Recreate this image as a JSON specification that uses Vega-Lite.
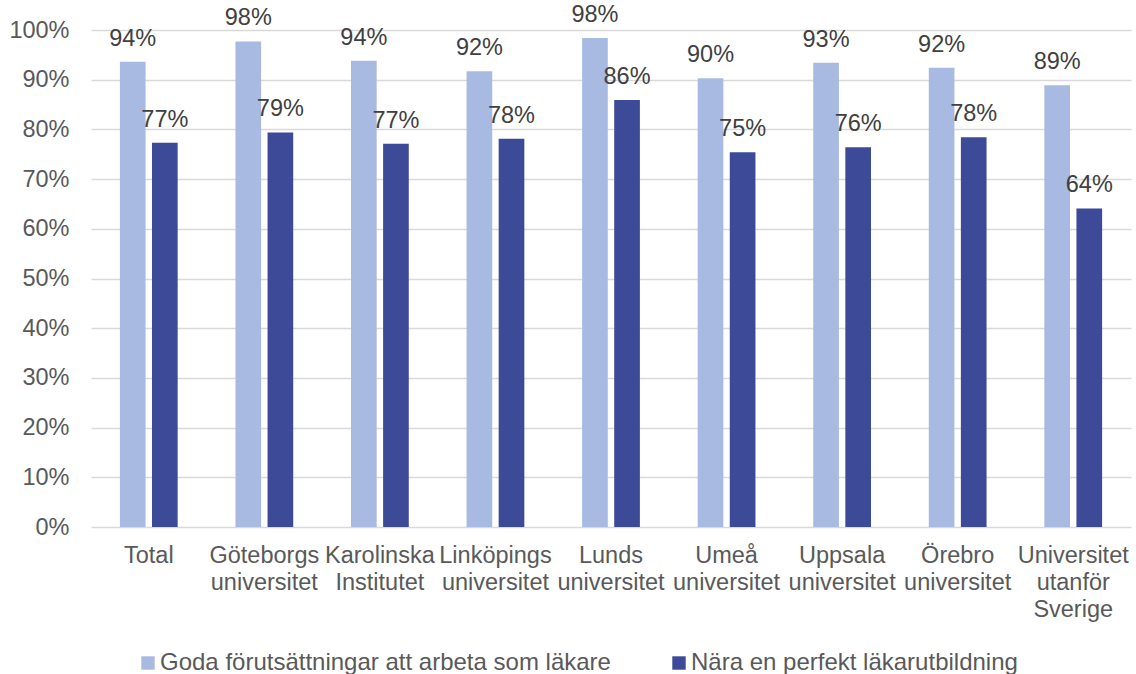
{
  "$schema": "https://vega.github.io/schema/vega-lite/v6.json",
  "width": 1040,
  "height": 497,
  "autosize": {"type": "none"},
  "padding": {"left": 91, "top": 30, "right": 5, "bottom": 147},
  "background": "white",
  "config": {
    "view": {"stroke": null},
    "font": "Liberation Sans",
    "text": {"font": "Liberation Sans"}
  },
  "data": {
    "values": [
      {"kat": "Total", "serie": "Goda förutsättningar att arbeta som läkare", "v": 0.936},
      {"kat": "Total", "serie": "Nära en perfekt läkarutbildning", "v": 0.773},
      {"kat": "Göteborgs\nuniversitet", "serie": "Goda förutsättningar att arbeta som läkare", "v": 0.977},
      {"kat": "Göteborgs\nuniversitet", "serie": "Nära en perfekt läkarutbildning", "v": 0.794},
      {"kat": "Karolinska\nInstitutet", "serie": "Goda förutsättningar att arbeta som läkare", "v": 0.938},
      {"kat": "Karolinska\nInstitutet", "serie": "Nära en perfekt läkarutbildning", "v": 0.771},
      {"kat": "Linköpings\nuniversitet", "serie": "Goda förutsättningar att arbeta som läkare", "v": 0.917},
      {"kat": "Linköpings\nuniversitet", "serie": "Nära en perfekt läkarutbildning", "v": 0.781},
      {"kat": "Lunds\nuniversitet", "serie": "Goda förutsättningar att arbeta som läkare", "v": 0.984},
      {"kat": "Lunds\nuniversitet", "serie": "Nära en perfekt läkarutbildning", "v": 0.859},
      {"kat": "Umeå\nuniversitet", "serie": "Goda förutsättningar att arbeta som läkare", "v": 0.903},
      {"kat": "Umeå\nuniversitet", "serie": "Nära en perfekt läkarutbildning", "v": 0.754},
      {"kat": "Uppsala\nuniversitet", "serie": "Goda förutsättningar att arbeta som läkare", "v": 0.934},
      {"kat": "Uppsala\nuniversitet", "serie": "Nära en perfekt läkarutbildning", "v": 0.764},
      {"kat": "Örebro\nuniversitet", "serie": "Goda förutsättningar att arbeta som läkare", "v": 0.924},
      {"kat": "Örebro\nuniversitet", "serie": "Nära en perfekt läkarutbildning", "v": 0.784},
      {"kat": "Universitet\nutanför\nSverige", "serie": "Goda förutsättningar att arbeta som läkare", "v": 0.889},
      {"kat": "Universitet\nutanför\nSverige", "serie": "Nära en perfekt läkarutbildning", "v": 0.641}
    ]
  },
  "encoding": {
    "x": {
      "field": "kat",
      "type": "nominal",
      "sort": null,
      "title": null,
      "scale": {"paddingInner": 0.5, "paddingOuter": 0.25},
      "axis": {
        "labelAngle": 0,
        "labelExpr": "split(datum.label, '\\n')",
        "labelFontSize": 23.5,
        "labelColor": "#595959",
        "labelFont": "Liberation Sans",
        "labelLineHeight": 27,
        "labelPadding": 16,
        "labelBaseline": "top",
        "labelOverlap": false,
        "domain": false,
        "ticks": false,
        "grid": false,
        "labelLimit": 0
      }
    },
    "xOffset": {
      "field": "serie",
      "type": "nominal",
      "sort": null,
      "scale": {"paddingInner": 0.2, "paddingOuter": 0}
    },
    "y": {
      "field": "v",
      "type": "quantitative",
      "title": null,
      "scale": {"domain": [0, 1], "nice": false},
      "axis": {
        "format": ".0%",
        "values": [0, 0.1, 0.2, 0.3, 0.4, 0.5, 0.6, 0.7, 0.8, 0.9, 1.0],
        "labelOverlap": false,
        "labelFontSize": 23.5,
        "labelColor": "#595959",
        "labelFont": "Liberation Sans",
        "labelPadding": 22,
        "domain": false,
        "ticks": false,
        "grid": true,
        "gridColor": "#d9d9d9",
        "gridWidth": 1.3
      }
    }
  },
  "layer": [
    {
      "mark": {"type": "bar"},
      "encoding": {
        "color": {
          "field": "serie",
          "type": "nominal",
          "sort": null,
          "scale": {
            "domain": ["Goda förutsättningar att arbeta som läkare", "Nära en perfekt läkarutbildning"],
            "range": ["#A9BAE2", "#3D4A98"]
          },
          "legend": {
            "title": null,
            "orient": "none",
            "direction": "horizontal",
            "legendX": 45,
            "legendY": 621,
            "symbolType": "square",
            "symbolSize": 180,
            "symbolStrokeWidth": 0,
            "labelFontSize": 24,
            "labelColor": "#595959",
            "labelFont": "Liberation Sans",
            "labelOffset": 0,
            "columnPadding": 56,
            "labelLimit": 0
          }
        }
      }
    },
    {
      "mark": {
        "type": "text",
        "baseline": "alphabetic",
        "dy": -16,
        "fontSize": 23.5,
        "color": "#404040",
        "font": "Liberation Sans"
      },
      "encoding": {
        "text": {"field": "v", "type": "quantitative", "format": ".0%"}
      }
    }
  ]
}
